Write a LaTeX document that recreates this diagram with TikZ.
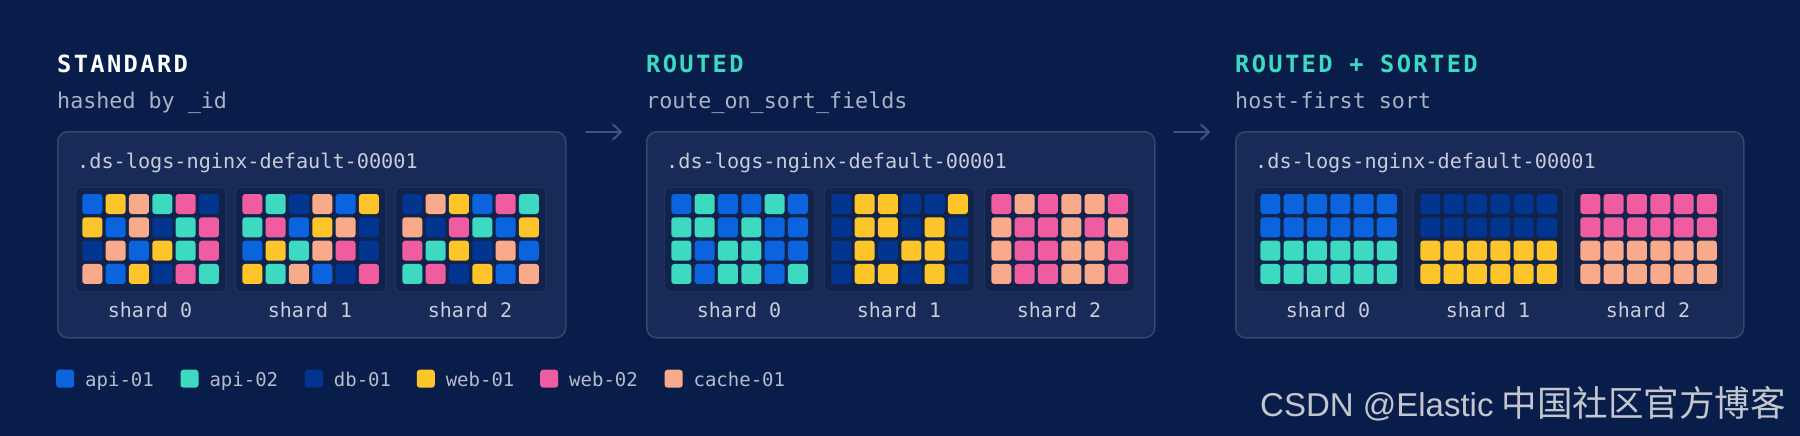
\documentclass[tikz,border=0pt]{standalone}
\usepackage{fontspec}
\setmonofont{DejaVu Sans Mono}
\newfontfamily\monof{DejaVu Sans Mono}
\newfontfamily\titlefont{DejaVu Sans Mono}[LetterSpace=10.0]
\newfontfamily\wmfont{Liberation Sans}
\newfontfamily\cjkfont{Noto Sans CJK SC}
\usetikzlibrary{arrows.meta}
\definecolor{bg}{HTML}{081D4A}
\definecolor{panelfill}{HTML}{172A58}
\definecolor{panelline}{HTML}{34466F}
\definecolor{shardfill}{HTML}{12234B}
\definecolor{shardline}{HTML}{1F3059}
\definecolor{sqA}{HTML}{0B64DD}
\definecolor{sqT}{HTML}{3DD9C1}
\definecolor{sqD}{HTML}{02358F}
\definecolor{sqY}{HTML}{FEC52A}
\definecolor{sqP}{HTML}{EF5DA0}
\definecolor{sqC}{HTML}{F9AA8B}
\definecolor{teal}{HTML}{3ED9C3}
\definecolor{subc}{HTML}{AAB3C5}
\definecolor{idxc}{HTML}{C6CCD8}
\definecolor{legc}{HTML}{B4BCCB}
\definecolor{arrowc}{HTML}{3F5280}
\definecolor{wmc}{HTML}{C3C6CC}
\tikzset{
  panelbox/.style={draw=panelline, fill=panelfill, line width=1.5pt, rounded corners=10pt,
    minimum width=508pt, minimum height=206pt, anchor=north west, inner sep=0pt},
  shardbox/.style={draw=shardline, fill=shardfill, line width=1.2pt, rounded corners=4pt,
    minimum width=150pt, minimum height=104pt, anchor=north west, inner sep=0pt},
  titletext/.style={anchor=base west, inner sep=0pt, font=\titlefont\bfseries\fontsize{23.7pt}{28pt}\selectfont},
  subtext/.style={anchor=base west, inner sep=0pt, text=subc, font=\monof\fontsize{21.7pt}{26pt}\selectfont},
  idxtext/.style={anchor=base west, inner sep=0pt, text=idxc, font=\monof\fontsize{20.2pt}{24pt}\selectfont},
  shardlabel/.style={anchor=base, inner sep=0pt, text=idxc, font=\monof\fontsize{20pt}{24pt}\selectfont},
  legsq/.style={anchor=north west, minimum width=18pt, minimum height=18pt, rounded corners=3pt, inner sep=0pt},
  legtext/.style={anchor=base west, inner sep=0pt, text=legc, font=\monof\fontsize{19pt}{23pt}\selectfont},
  flowarrow/.style={draw=arrowc, line width=2pt, line cap=round,
    -{Straight Barb[length=8pt,width=15pt,line cap=round,line join=round]}},
}
\newcommand\shardgrid[3]{%
  \node[shardbox] (#2) at (#1,187) {};
  \foreach \c [count=\i from 0] in {#3}{%
    \pgfmathtruncatemacro\row{floor(\i/6)}%
    \pgfmathtruncatemacro\col{\i-6*\row}%
    \pgfmathsetmacro\sx{#1+7.3+\col*23.33}%
    \pgfmathsetmacro\sy{194+\row*23.33}%
    \fill[sq\c, rounded corners=3pt] (\sx,\sy) rectangle ++(20,20);
  }%
}
\newcommand\drawpanel[8]{%
  \node[panelbox] (#2) at (#1,131) {};
  \node[titletext, text=#4] (#2-title) at (#1,73) {#3};
  \node[subtext] (#2-sub) at (#1,108) {#5};
  \node[idxtext] (#2-idx) at (#1+20,168) {.ds-logs-nginx-default-00001};
  \pgfmathsetmacro\xa{#1+18}%
  \pgfmathsetmacro\xb{#1+178}%
  \pgfmathsetmacro\xc{#1+338}%
  \shardgrid{\xa}{#2-s0}{#6}
  \shardgrid{\xb}{#2-s1}{#7}
  \shardgrid{\xc}{#2-s2}{#8}
  \node[shardlabel] (#2-l0) at (\xa+75,317) {shard 0};
  \node[shardlabel] (#2-l1) at (\xb+75,317) {shard 1};
  \node[shardlabel] (#2-l2) at (\xc+75,317) {shard 2};
}
\begin{document}
\begin{tikzpicture}[x=1pt,y=-1pt]
\useasboundingbox (0,0) rectangle (1800,436);
\fill[bg] (0,0) rectangle (1800,436);

\drawpanel{57}{P1}{STANDARD}{white}{hashed by \_id}
 {A,Y,C,T,P,D, Y,A,C,D,T,P, D,C,A,Y,T,P, C,A,Y,D,P,T}
 {P,T,D,C,A,Y, T,P,A,Y,C,D, A,Y,T,C,P,D, Y,T,C,A,D,P}
 {D,C,Y,A,P,T, C,D,P,T,A,Y, P,T,Y,D,C,A, T,P,D,Y,A,C}
\drawpanel{646}{P2}{ROUTED}{teal}{route\_on\_sort\_fields}
 {A,T,A,A,T,A, T,T,A,T,A,A, T,A,T,T,A,A, T,A,T,T,A,T}
 {D,Y,Y,D,D,Y, D,Y,Y,D,Y,D, D,Y,D,Y,Y,D, D,Y,Y,D,Y,D}
 {P,C,P,C,C,P, C,P,P,C,P,C, C,P,P,C,C,P, C,P,P,C,C,P}
\drawpanel{1235}{P3}{ROUTED + SORTED}{teal}{host-first sort}
 {A,A,A,A,A,A, A,A,A,A,A,A, T,T,T,T,T,T, T,T,T,T,T,T}
 {D,D,D,D,D,D, D,D,D,D,D,D, Y,Y,Y,Y,Y,Y, Y,Y,Y,Y,Y,Y}
 {P,P,P,P,P,P, P,P,P,P,P,P, C,C,C,C,C,C, C,C,C,C,C,C}

\coordinate (a1s) at (586,132);
\coordinate (a1e) at (622,132);
\coordinate (a2s) at (1174,132);
\coordinate (a2e) at (1210,132);
\draw[flowarrow] (a1s) -- (a1e);
\draw[flowarrow] (a2s) -- (a2e);

\foreach \k/\x/\c/\t in {1/56/A/api-01, 2/180.3/T/api-02, 3/304.7/D/db-01, 4/416.6/Y/web-01, 5/540/P/web-02, 6/664.4/C/cache-01}{
  \node[legsq, fill=sq\c] (lg\k) at (\x,369.5) {};
  \node[legtext] (lt\k) at (\x+29,386) {\t};
}

\node[anchor=base west, inner sep=0pt, text=wmc] (wm) at (1260,416)
  {\wmfont\fontsize{33pt}{40pt}\selectfont CSDN @Elastic\hspace{8pt}{\cjkfont\fontsize{35.5pt}{40pt}\selectfont 中国社区官方博客}};
\end{tikzpicture}
\end{document}
